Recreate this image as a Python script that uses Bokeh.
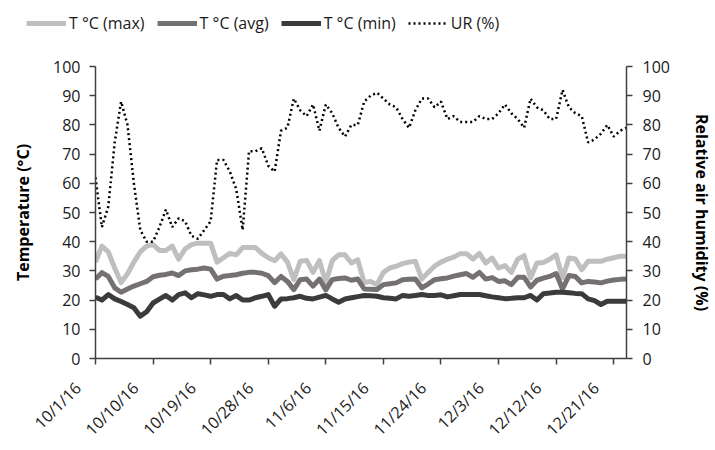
import pandas as pd
from math import pi
from bokeh.plotting import figure
from bokeh.layouts import column
from bokeh.models import Range1d, LinearAxis, FixedTicker, Legend, LegendItem, ColumnDataSource
from bokeh.embed import file_html
from bokeh.resources import INLINE

# ---- data ----
dates = pd.date_range("2016-10-01", "2016-12-23", freq="D")

t_max = [33, 38.5, 36.5, 31, 26, 29, 33, 36.5, 38.5, 39,
         37, 37, 38.5, 34, 37.5, 39, 39.5, 39.5, 39.5, 33,
         34.5, 36, 35.5, 38, 38, 38, 36, 34.5, 33.5, 35.8,
         33, 27, 33.3, 33.6, 29.5, 33.5, 26, 33.5, 35.5, 35.5,
         32.7, 33.8, 26, 26.4, 25.3, 29.5, 31, 31.6, 32.5, 33,
         33.3, 27.2, 29.5, 31.6, 33, 34, 34.7, 35.9, 35.9, 34,
         36, 32.7, 34.4, 31, 31.8, 29.5, 34, 35.2, 27.6, 32.7,
         32.9, 34, 35.5, 27.6, 34.4, 34.1, 30.4, 33.3, 33.3, 33.3,
         34, 34.5, 35, 35]

t_avg = [27.2, 29.4, 28.1, 24.2, 22.7, 23.8, 24.8, 25.6, 26.4, 28,
         28.5, 28.8, 29.3, 28.4, 30, 30.4, 30.6, 31, 30.6, 27.2,
         28.2, 28.4, 28.7, 29.2, 29.5, 29.5, 29.2, 28.4, 26, 28.1,
         26.4, 23.6, 27, 27.2, 24.8, 27.2, 23.5, 27, 27.4, 27.6,
         26.8, 27.2, 23.8, 23.7, 23.6, 25.3, 25.6, 25.9, 27, 27.1,
         27.2, 24.2, 25.5, 27, 27.3, 27.6, 28.2, 28.7, 29.1, 27.8,
         29.5, 27.2, 27.7, 26.4, 26.6, 25.3, 27.8, 27.8, 24.5, 26.8,
         27.5, 28.1, 29.1, 23.8, 28.4, 28.1, 25.9, 26.4, 26.2, 25.9,
         26.5, 26.9, 27.1, 27.2]

t_min = [21, 20, 21.9, 20.4, 19.5, 18.5, 17.4, 14.5, 16, 19,
         20.3, 21.6, 20, 21.9, 22.5, 20.8, 22.2, 21.8, 21.3, 21.9,
         21.9, 20.4, 21.6, 20, 20, 20.8, 21.3, 21.9, 17.9, 20.4,
         20.5, 20.8, 21.3, 20.6, 20.4, 21, 21.6, 20.4, 19.3, 20.4,
         20.8, 21.2, 21.6, 21.5, 21.3, 20.8, 20.6, 20.4, 21.6, 21.3,
         21.6, 21.9, 21.6, 21.6, 21.8, 21.1, 21.5, 21.9, 21.9, 21.9,
         21.9, 21.5, 21.1, 20.8, 20.5, 20.6, 20.8, 20.8, 21.6, 20,
         22.2, 22.4, 22.7, 22.7, 22.5, 22.3, 22.2, 20.4, 19.8, 18.5,
         19.6, 19.6, 19.6, 19.6]

ur = [62, 45, 52, 74, 88, 80, 60, 44, 40, 40,
      45, 51, 45, 48, 47, 42, 41, 44, 47, 68,
      68, 64, 58, 44, 71, 71, 72, 66, 64, 78,
      79, 89, 85, 83, 87, 78, 87, 84, 79, 76,
      80, 80, 88, 90, 91, 89, 87, 86, 82, 79,
      85, 89, 89, 86, 88, 82, 83, 81, 81, 81,
      83, 82, 82, 84, 87, 84, 82, 79, 89, 86,
      85, 82, 82, 92, 86, 84, 83, 74, 75, 77,
      80, 76, 78, 79]

tick_dates = ["2016-10-01", "2016-10-10", "2016-10-19", "2016-10-28", "2016-11-06",
              "2016-11-15", "2016-11-24", "2016-12-03", "2016-12-12", "2016-12-21"]
tick_labels = ["10/1/16", "10/10/16", "10/19/16", "10/28/16", "11/6/16",
               "11/15/16", "11/24/16", "12/3/16", "12/12/16", "12/21/16"]

y_ticks = [0, 10, 20, 30, 40, 50, 60, 70, 80, 90, 100]

series_names = ["T °C (max)", "T °C (avg)", "T °C (min)", "UR (%)"]

# ---- derived ----
day = [(d - dates[0]).days for d in dates]
tick_pos = [(pd.Timestamp(t) - dates[0]).days for t in tick_dates]
src = ColumnDataSource(dict(day=day, t_max=t_max, t_avg=t_avg, t_min=t_min, ur=ur))

FONT = "Open Sans"
TXT = "#1a1a1a"
AX = "#404040"
C_MAX, C_AVG, C_MIN = "#BFBFBF", "#767171", "#3B3B3B"
UR_DASH = "2 3"
W = 715

# ---- main chart ----
p = figure(width=W, height=410, output_backend="svg", toolbar_location=None,
           x_range=Range1d(day[0], day[-1]), y_range=Range1d(0, 100),
           min_border_left=95, min_border_right=86, min_border_top=26, min_border_bottom=91,
           x_axis_type=None, y_axis_type=None)
p.grid.visible = False
p.outline_line_color = None
p.extra_y_ranges = {"ur": Range1d(0, 100)}

p.line("day", "t_max", source=src, line_color=C_MAX, line_width=5, line_join="round")
p.line("day", "t_avg", source=src, line_color=C_AVG, line_width=5, line_join="round")
p.line("day", "t_min", source=src, line_color=C_MIN, line_width=5, line_join="round")
p.line("day", "ur", source=src, y_range_name="ur", line_color="black", line_width=2.5,
       line_dash=UR_DASH)

def style(ax):
    ax.axis_line_color = AX
    ax.axis_line_width = 1.5
    ax.major_tick_line_color = AX
    ax.major_tick_line_width = 1.5
    ax.major_tick_in = 0
    ax.major_tick_out = 6
    ax.minor_tick_line_color = None
    ax.major_label_text_font = FONT
    ax.major_label_text_font_size = "16px"
    ax.major_label_text_color = TXT
    ax.axis_label_text_font = FONT
    ax.axis_label_text_font_size = "16px"
    ax.axis_label_text_font_style = "bold"
    ax.axis_label_text_color = "black"

NB = "\u00a0" * 6
xa = LinearAxis(ticker=FixedTicker(ticks=tick_pos))
xa.major_label_overrides = {tp: lab + NB for tp, lab in zip(tick_pos, tick_labels)}
style(xa)
xa.major_label_orientation = pi / 4
xa.major_label_text_font_size = "16px"
xa.major_label_standoff = 3
p.add_layout(xa, "below")

ya = LinearAxis(ticker=FixedTicker(ticks=y_ticks), axis_label="Temperature (°C)")
style(ya)
ya.major_label_standoff = 9
ya.axis_label_standoff = 16
p.add_layout(ya, "left")

ya2 = LinearAxis(y_range_name="ur", ticker=FixedTicker(ticks=y_ticks),
                 axis_label="Relative air humidity (%)")
style(ya2)
ya2.major_label_standoff = 10
ya2.axis_label_standoff = 18
p.add_layout(ya2, "right")

# ---- legend strip ----
lg = figure(width=W, height=40, output_backend="svg", toolbar_location=None,
            x_range=Range1d(0, 1), y_range=Range1d(0, 1),
            min_border_left=0, min_border_right=0, min_border_top=0, min_border_bottom=0,
            x_axis_type=None, y_axis_type=None)
try:
    lg.frame_align = False
except Exception:
    pass
lg.grid.visible = False
lg.outline_line_color = None
off = ColumnDataSource(dict(x=[5, 6], y=[5, 5]))  # swatch-only renderers, outside the view
g1 = lg.line("x", "y", source=off, line_color=C_MAX, line_width=5)
g2 = lg.line("x", "y", source=off, line_color=C_AVG, line_width=5)
g3 = lg.line("x", "y", source=off, line_color=C_MIN, line_width=5)
g4 = lg.line("x", "y", source=off, line_color="black", line_width=2.5, line_dash=UR_DASH)

legend = Legend(items=[LegendItem(label=n, renderers=[r]) for n, r in zip(series_names, [g1, g2, g3, g4])],
                orientation="horizontal", location=(26, 6),
                glyph_width=40, glyph_height=16, label_standoff=3, spacing=12,
                padding=0, margin=0, border_line_color=None, background_fill_alpha=0,
                label_text_font=FONT, label_text_font_size="16px", label_text_color=TXT)
lg.add_layout(legend, "center")

layout = column(lg, p, spacing=0)
open("out.html", "w").write(file_html(layout, INLINE))
